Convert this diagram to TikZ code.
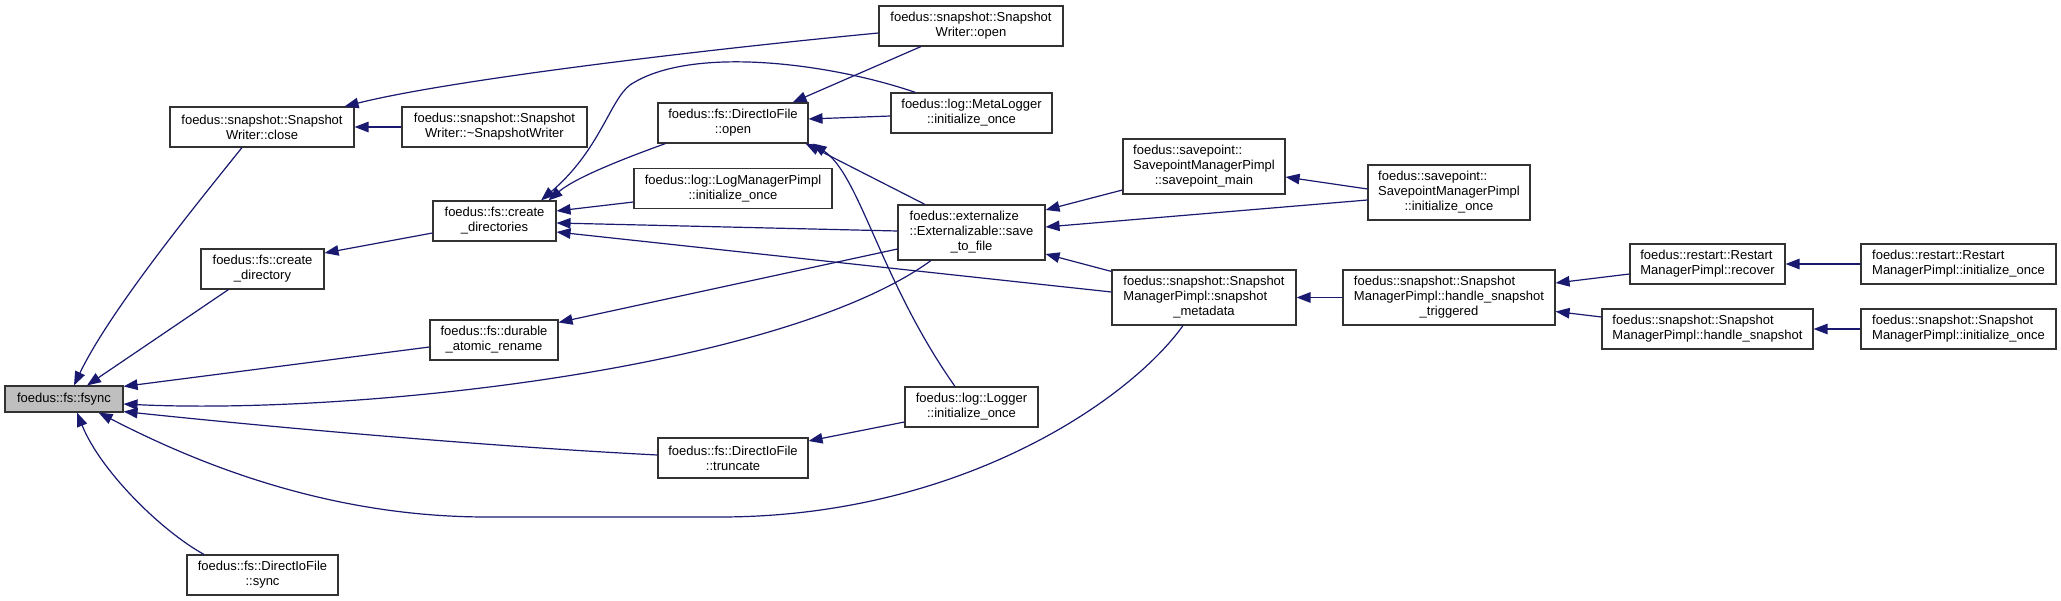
\documentclass[tikz,border=0pt]{standalone}
\usepackage{fontspec}
\setmainfont{Liberation Sans}
\usetikzlibrary{arrows.meta,calc}
\definecolor{edgec}{RGB}{25,25,112}
\definecolor{hl}{RGB}{191,191,191}
\definecolor{bordc}{RGB}{50,50,50}
\newcommand{\lft}[1]{\begin{tabular}{@{}l@{}}#1\end{tabular}}
\newcommand{\ctr}[1]{\multicolumn{1}{@{}c@{}}{#1}}
\begin{document}
\begin{tikzpicture}[x=1pt,y=-1pt,
  box/.style={draw=bordc, fill=white, line width=1.1pt, inner sep=0pt,
    font=\fontsize{13}{15}\selectfont, align=center},
  wh/.style 2 args={minimum width=#1pt, minimum height=#2pt},
  edge/.style={draw=edgec, line width=1.2pt, -{Triangle[length=14pt,width=10.5pt]}}]
\fill[white] (0,0) rectangle (2061,601);
\useasboundingbox (0,0) rectangle (2061,601);
% nodes
\node[box, wh={118}{26}, fill=hl] (fsync) at (64,399) {foedus::fs::fsync};
\node[box, wh={184}{40}] (close) at (262,127) {foedus::snapshot::Snapshot\\Writer::close};
\node[box, wh={185}{40}] (dtor) at (494.5,127) {foedus::snapshot::Snapshot\\Writer::\textasciitilde SnapshotWriter};
\node[box, wh={123}{40}] (cdirs) at (494.5,221) {foedus::fs::create\\\_directories};
\node[box, wh={123}{40}] (cdir) at (262.5,269) {foedus::fs::create\\\_directory};
\node[box, wh={128}{40}] (dar) at (494,340) {foedus::fs::durable\\\_atomic\_rename};
\node[box, wh={151}{40}] (sync) at (262.5,575) {foedus::fs::DirectIoFile\\::sync};
\node[box, wh={184}{40}] (wopen) at (971,26) {foedus::snapshot::Snapshot\\Writer::open};
\node[box, wh={150}{40}] (dopen) at (733,123) {foedus::fs::DirectIoFile\\::open};
\node[box, wh={161}{40}] (meta) at (971.5,113) {foedus::log::MetaLogger\\::initialize\_once};
\node[box, wh={198}{40}] (logmgr) at (733,188.5) {foedus::log::LogManagerPimpl\\::initialize\_once};
\node[box, wh={147}{55}] (save) at (971.5,232.5) {\lft{foedus::externalize\\::Externalizable::save\\\ctr{\_to\_file}}};
\node[box, wh={133}{40}] (logger) at (971.5,407) {foedus::log::Logger\\::initialize\_once};
\node[box, wh={150}{40}] (trunc) at (733,458) {foedus::fs::DirectIoFile\\::truncate};
\node[box, wh={162}{55}] (spmain) at (1204,166.5) {\lft{foedus::savepoint::\\SavepointManagerPimpl\\\ctr{::savepoint\_main}}};
\node[box, wh={162}{55}] (spinit) at (1449,192.5) {\lft{foedus::savepoint::\\SavepointManagerPimpl\\\ctr{::initialize\_once}}};
\node[box, wh={184}{55}] (smeta) at (1204,297.5) {\lft{foedus::snapshot::Snapshot\\ManagerPimpl::snapshot\\\ctr{\_metadata}}};
\node[box, wh={212}{55}] (hst) at (1449,297.5) {\lft{foedus::snapshot::Snapshot\\ManagerPimpl::handle\_snapshot\\\ctr{\_triggered}}};
\node[box, wh={155}{40}] (recover) at (1707.5,264) {\lft{foedus::restart::Restart\\ManagerPimpl::recover}};
\node[box, wh={195}{40}] (rinit) at (1958.5,264) {\lft{foedus::restart::Restart\\ManagerPimpl::initialize\_once}};
\node[box, wh={211}{40}] (hs) at (1707.5,329) {\lft{foedus::snapshot::Snapshot\\ManagerPimpl::handle\_snapshot}};
\node[box, wh={195}{40}] (sinit) at (1958.5,329) {\lft{foedus::snapshot::Snapshot\\ManagerPimpl::initialize\_once}};
% edges into fsync
\draw[edge] ($(close.south)+(-20,0)$) .. controls (200,200) and (110,310) .. ($(fsync.north)+(10,0)$);
\draw[edge] ($(cdir.south)+(-34,0)$) -- ($(fsync.north)+(23,0)$);
\draw[edge] ($(dar.west)+(0,7)$) -- ($(fsync.north east)+(0,1)$);
\draw[edge] ($(save.south)+(-40.5,0)$) .. controls (780,370) and (350,415) .. ($(fsync.east)+(0,5)$);
\draw[edge] ($(trunc.west)+(0,-3)$) .. controls (500,447) and (300,430) .. ($(fsync.south east)+(0,-1)$);
\draw[edge] ($(smeta.south)+(-21,0)$) .. controls (1130,400) and (960,517) .. (720,517) -- (487,517) .. controls (330,517) and (200,465) .. ($(fsync.south east)+(-25,0)$);
\draw[edge] ($(sync.north)+(-58.5,0)$) .. controls (160,530) and (100,470) .. ($(fsync.south)+(13,0)$);
% others
\draw[edge] (dtor.west) -- (close.east);
\draw[edge] ($(wopen.west)+(0,7)$) .. controls (700,50) and (450,80) .. ($(close.north east)+(-10,0)$);
\draw[edge] ($(cdirs.west)+(0,12)$) -- ($(cdir.east)+(0,-16)$);
\draw[edge] ($(meta.north west)+(25,0)$) .. controls (830,63) and (690,45) .. (630,85) .. controls (610,100) and (600,150) .. ($(cdirs.north)+(46.5,0)$);
\draw[edge] ($(dopen.south west)+(8,0)$) .. controls (620,160) and (575,178) .. ($(cdirs.north)+(54,0)$);
\draw[edge] ($(logmgr.west)+(0,13.5)$) -- ($(cdirs.east)+(0,-10)$);
\draw[edge] ($(save.west)+(0,-1.5)$) -- ($(cdirs.east)+(0,2)$);
\draw[edge] ($(smeta.west)+(0,-5.5)$) -- ($(cdirs.east)+(0,11)$);
\draw[edge] ($(save.west)+(0,16.5)$) -- ($(dar.north east)+(0,3)$);
\draw[edge] ($(wopen.south)+(-50,0)$) -- ($(dopen.north east)+(-16,0)$);
\draw[edge] ($(meta.west)+(0,3)$) -- ($(dopen.east)+(0,-4)$);
\draw[edge] ($(save.north)+(-46.5,0)$) -- ($(dopen.south east)+(-3,0)$);
\draw[edge] ($(logger.north)+(-16.5,0)$) .. controls (880,280) and (860,175) .. ($(dopen.south east)+(4,0)$);
\draw[edge] ($(logger.west)+(0,15)$) -- ($(trunc.east)+(0,-17)$);
\draw[edge] ($(spmain.west)+(0,23.5)$) -- ($(save.east)+(0,-22.5)$);
\draw[edge] ($(spinit.west)+(0,7.5)$) -- ($(save.east)+(0,-5.5)$);
\draw[edge] ($(smeta.north west)+(0,2)$) -- ($(save.east)+(0,21.5)$);
\draw[edge] ($(spinit.west)+(0,-3.5)$) -- ($(spmain.east)+(0,10.5)$);
\draw[edge] (hst.west) -- (smeta.east);
\draw[edge] ($(recover.west)+(0,10)$) -- ($(hst.east)+(0,-14.5)$);
\draw[edge] ($(hs.west)+(0,-12)$) -- ($(hst.east)+(0,14)$);
\draw[edge] (rinit.west) -- (recover.east);
\draw[edge] (sinit.west) -- (hs.east);
\end{tikzpicture}
\end{document}
